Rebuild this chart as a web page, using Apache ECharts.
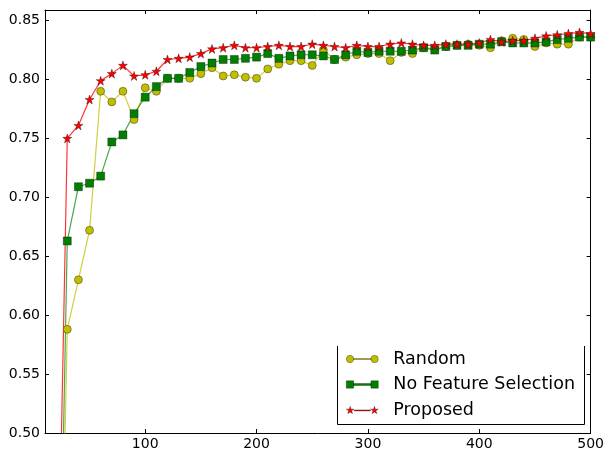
<!DOCTYPE html>
<html>
<head>
<meta charset="utf-8">
<script src="https://cdn.jsdelivr.net/npm/echarts@6/dist/echarts.min.js"></script>
<style>
html,body{margin:0;padding:0;background:#fff;}
#chart{width:607px;height:452px;}
</style>
</head>
<body>
<div id="chart"></div>
<script>
// ---- data ----
var xValues = [20,30,40,50,60,70,80,90,100,110,120,130,140,150,160,170,180,190,200,210,220,230,240,250,260,270,280,290,300,310,320,330,340,350,360,370,380,390,400,410,420,430,440,450,460,470,480,490,500];
var randomVals = [0.13,0.588,0.630,0.672,0.790,0.781,0.790,0.766,0.793,0.790,0.801,0.801,0.801,0.805,0.810,0.803,0.804,0.802,0.801,0.809,0.813,0.816,0.816,0.812,0.825,0.817,0.819,0.821,0.822,0.822,0.816,0.823,0.822,0.827,0.826,0.828,0.829,0.830,0.829,0.827,0.833,0.835,0.834,0.828,0.831,0.830,0.830,0.836,0.836];
var noFeatVals = [0.18,0.663,0.709,0.712,0.718,0.747,0.753,0.771,0.785,0.794,0.801,0.801,0.806,0.811,0.814,0.817,0.817,0.818,0.819,0.822,0.818,0.820,0.821,0.821,0.820,0.817,0.821,0.824,0.823,0.824,0.824,0.824,0.825,0.827,0.825,0.828,0.829,0.829,0.830,0.830,0.832,0.831,0.831,0.831,0.832,0.834,0.835,0.836,0.836];
var proposedVals = [0.27,0.750,0.761,0.783,0.799,0.805,0.812,0.803,0.804,0.807,0.817,0.818,0.819,0.822,0.826,0.827,0.829,0.827,0.827,0.828,0.829,0.828,0.828,0.830,0.829,0.828,0.827,0.829,0.828,0.828,0.830,0.831,0.830,0.829,0.829,0.830,0.830,0.830,0.831,0.834,0.832,0.833,0.833,0.835,0.837,0.838,0.839,0.840,0.839];
var seriesNames = ['Random','No Feature Selection','Proposed'];
var xTickLabels = ['100','200','300','400','500'];
var yTickLabels = ['0.50','0.55','0.60','0.65','0.70','0.75','0.80','0.85'];

function pairs(vals){ return xValues.map(function(x,i){ return [x, vals[i]]; }); }

// ---- symbol paths (styling only) ----
function starPts(cx, cy, R){
  var r = R*0.381966, s = [];
  for (var k=0;k<10;k++){
    var a = -Math.PI/2 + k*Math.PI/5, rr = (k%2===0)?R:r;
    s.push((k===0?'M':'L') + (cx+rr*Math.cos(a)).toFixed(3) + ',' + (cy+rr*Math.sin(a)).toFixed(3));
  }
  return s.join(' ') + ' Z';
}
function circ(cx, cy, r){
  return 'M'+(cx-r)+','+cy+' A'+r+','+r+' 0 1,1 '+(cx+r)+','+cy+' A'+r+','+r+' 0 1,1 '+(cx-r)+','+cy+' Z';
}
function sq(cx, cy, h){
  return 'M'+(cx-h)+','+(cy-h)+' L'+(cx+h)+','+(cy-h)+' L'+(cx+h)+','+(cy+h)+' L'+(cx-h)+','+(cy+h)+' Z';
}
function bar(x1, x2, cy, t){
  return 'M'+x1+','+(cy-t)+' L'+x2+','+(cy-t)+' L'+x2+','+(cy+t)+' L'+x1+','+(cy+t)+' Z';
}
var starSymbol = 'path://' + starPts(0,0,10);
var iconRandom = 'path://' + circ(4,4,3.6) + ' ' + bar(7.6,24.4,4,0.5) + ' ' + circ(28,4,3.6);
var iconNoFeat = 'path://' + sq(4,4,3.6) + ' ' + bar(7.6,24.4,4,1) + ' ' + sq(28,4,3.6);
var iconProp = 'path://' + starPts(4,4,4) + ' ' + bar(8,24,4,0.5) + ' ' + starPts(28,4,4);

var FONT = 'DejaVu Sans';

var chart = echarts.init(document.getElementById('chart'), null, {renderer:'canvas'});
var axisLineStyle = {color:'#000', width:1};
var option = {
  backgroundColor:'#fff',
  animation:false,
  grid:{left:45, right:14, top:10, bottom:19, containLabel:false},
  xAxis:[{
    type:'value', min:10, max:500, splitNumber:5,
    axisLine:{show:true, onZero:false, lineStyle:axisLineStyle},
    axisTick:{show:true, inside:true, length:4, lineStyle:{color:'#000'}},
    splitLine:{show:false},
    axisLabel:{show:true, margin:4, showMinLabel:false, color:'#000', fontFamily:FONT, fontSize:14,
      formatter:function(v){ var s=String(Math.round(v)); return xTickLabels.indexOf(s)>=0 ? s : ''; }}
  },{
    type:'value', min:10, max:500, splitNumber:5, position:'top',
    axisLine:{show:true, onZero:false, lineStyle:axisLineStyle},
    axisTick:{show:true, inside:true, length:4, lineStyle:{color:'#000'}},
    splitLine:{show:false}, axisLabel:{show:false}
  }],
  yAxis:[{
    type:'value', min:0.5, max:0.859, interval:0.05,
    axisLine:{show:true, onZero:false, lineStyle:axisLineStyle},
    axisTick:{show:true, inside:true, length:4, lineStyle:{color:'#000'}},
    splitLine:{show:false},
    axisLabel:{show:true, margin:5, showMaxLabel:false, color:'#000', fontFamily:FONT, fontSize:14,
      formatter:function(v){ var s=v.toFixed(2); return yTickLabels.indexOf(s)>=0 ? s : ''; }}
  },{
    type:'value', min:0.5, max:0.859, interval:0.05, position:'right',
    axisLine:{show:true, onZero:false, lineStyle:axisLineStyle},
    axisTick:{show:true, inside:true, length:4, lineStyle:{color:'#000'}},
    splitLine:{show:false}, axisLabel:{show:false}
  }],
  legend:{
    orient:'vertical', left:346, top:349, padding:0, itemGap:5.5,
    itemWidth:32, itemHeight:8,
    textStyle:{color:'#000', fontFamily:FONT, fontSize:17.5, lineHeight:20, padding:[0,0,0,10]},
    data:[
      {name:seriesNames[0], icon:iconRandom, itemStyle:{color:'#bfbf00', borderColor:'rgba(0,0,0,0.5)', borderWidth:0.6}},
      {name:seriesNames[1], icon:iconNoFeat, itemStyle:{color:'#008000', borderColor:'rgba(0,0,0,0.5)', borderWidth:0.6}},
      {name:seriesNames[2], icon:iconProp, itemStyle:{color:'#ff0000', borderColor:'rgba(0,0,0,0.5)', borderWidth:0.6}}
    ]
  },
  graphic:[{
    type:'polyline', z:100,
    shape:{points:[[337.5,346],[337.5,424.5],[584.5,424.5],[584.5,346]]},
    style:{stroke:'#000', lineWidth:1, fill:null}
  }],
  series:[{
    name:seriesNames[0], type:'line', data:pairs(randomVals), clip:true,
    symbol:'circle', symbolSize:8,
    lineStyle:{color:'rgba(191,191,0,0.75)', width:1.2},
    itemStyle:{color:'#bfbf00', borderColor:'rgba(0,0,0,0.45)', borderWidth:0.8}
  },{
    name:seriesNames[1], type:'line', data:pairs(noFeatVals), clip:true,
    symbol:'rect', symbolSize:8,
    lineStyle:{color:'rgba(0,128,0,0.7)', width:1.2},
    itemStyle:{color:'#008000', borderColor:'rgba(0,0,0,0.45)', borderWidth:0.8}
  },{
    name:seriesNames[2], type:'line', data:pairs(proposedVals), clip:true,
    symbol:starSymbol, symbolSize:9,
    lineStyle:{color:'rgba(255,0,0,0.8)', width:1.2},
    itemStyle:{color:'#ff0000', borderColor:'rgba(0,0,0,0.5)', borderWidth:0.7}
  }]
};
chart.setOption(option);
</script>
</body>
</html>
